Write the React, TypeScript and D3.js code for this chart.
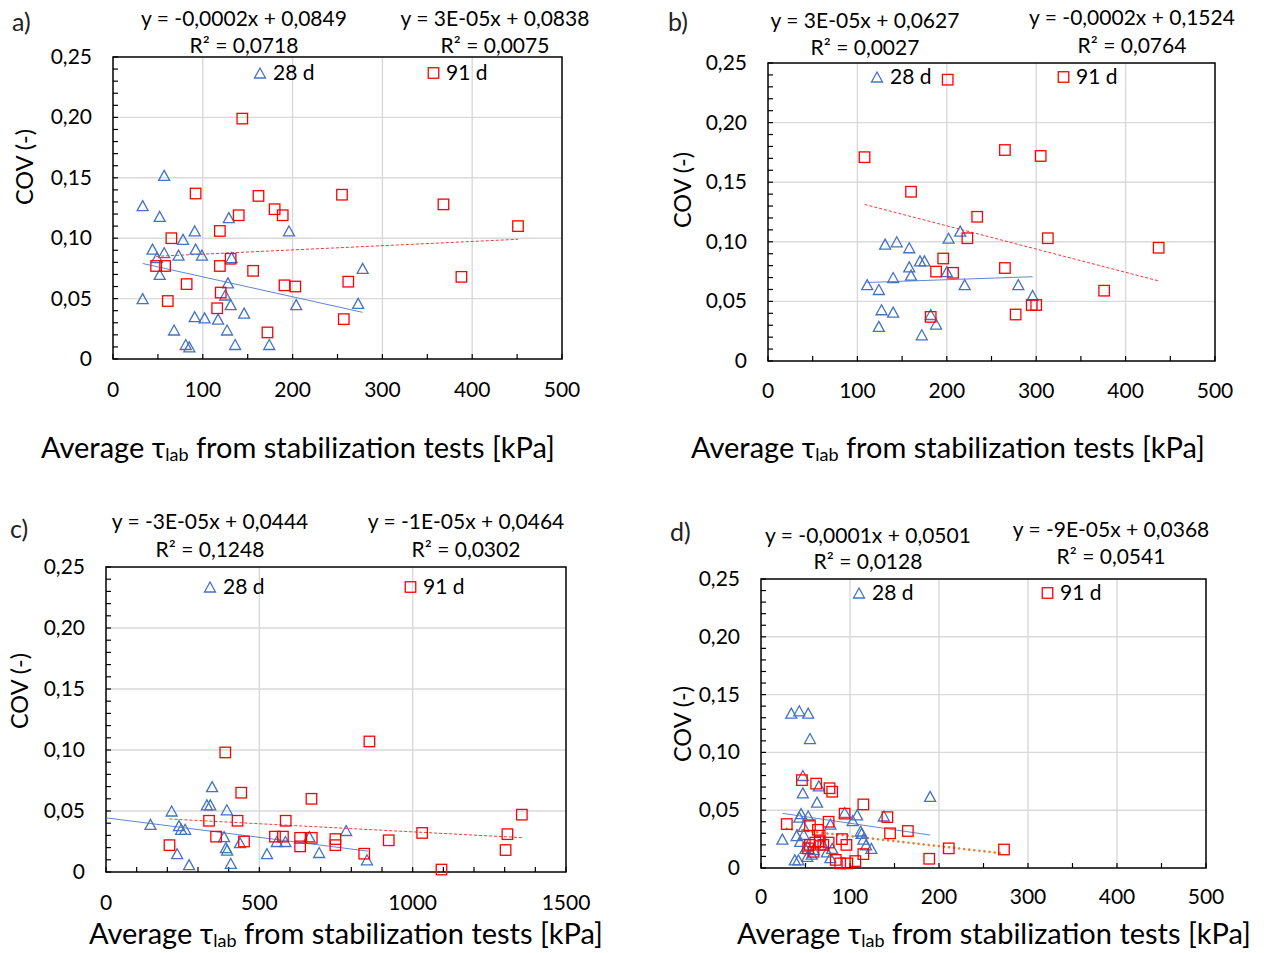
import React from 'react';
import * as d3 from 'd3';

const FONT = "Lato, 'Open Sans', sans-serif";
const BLUE = '#4472C4';
const RED = '#FF0000';
const ORANGE = '#ED7D31';

// ---------- Panel a ----------
const aX28 = [33, 57, 52, 44, 49, 57, 52, 33, 78, 73, 91, 92, 99, 68, 81, 85, 91, 102, 117, 129, 132, 128, 125, 131, 127, 136, 146, 174, 196, 204, 278, 273];
const aY28 = [0.127, 0.152, 0.118, 0.091, 0.084, 0.088, 0.070, 0.050, 0.099, 0.086, 0.106, 0.091, 0.086, 0.024, 0.012, 0.010, 0.035, 0.034, 0.033, 0.117, 0.084, 0.063, 0.053, 0.045, 0.024, 0.012, 0.038, 0.012, 0.106, 0.045, 0.075, 0.046];
const aX91 = [144, 92, 162, 180, 189, 140, 119, 65, 48, 58, 119, 131, 156, 82, 191, 203, 120, 61, 116, 172, 255, 368, 451, 388, 262, 257];
const aY91 = [0.199, 0.137, 0.135, 0.124, 0.119, 0.119, 0.106, 0.100, 0.077, 0.077, 0.077, 0.083, 0.073, 0.062, 0.061, 0.060, 0.055, 0.048, 0.042, 0.022, 0.136, 0.128, 0.110, 0.068, 0.064, 0.033];

// ---------- Panel b ----------
const bX28 = [111, 124, 127, 140, 124, 131, 144, 158, 140, 158, 160, 170, 175, 172, 182, 188, 200, 202, 215, 220, 280, 296];
const bY28 = [0.064, 0.060, 0.043, 0.041, 0.029, 0.098, 0.100, 0.095, 0.070, 0.079, 0.072, 0.084, 0.084, 0.022, 0.039, 0.031, 0.075, 0.103, 0.109, 0.064, 0.064, 0.055];
const bX91 = [201, 108, 265, 305, 160, 234, 223, 313, 437, 196, 188, 207, 265, 376, 182, 277, 295, 300];
const bY91 = [0.236, 0.171, 0.177, 0.172, 0.142, 0.121, 0.103, 0.103, 0.095, 0.086, 0.075, 0.074, 0.078, 0.059, 0.037, 0.039, 0.047, 0.047];

// ---------- Panel c ----------
const cX28 = [145, 214, 238, 245, 258, 232, 271, 346, 329, 340, 394, 385, 391, 395, 407, 437, 525, 557, 585, 663, 695, 783, 851];
const cY28 = [0.039, 0.050, 0.038, 0.035, 0.035, 0.015, 0.006, 0.070, 0.055, 0.055, 0.051, 0.029, 0.020, 0.018, 0.007, 0.024, 0.015, 0.025, 0.025, 0.029, 0.016, 0.034, 0.010];
const cX91 = [389, 859, 441, 670, 336, 429, 586, 207, 359, 450, 551, 577, 633, 633, 748, 748, 671, 842, 922, 1031, 1094, 1309, 1303, 1356];
const cY91 = [0.098, 0.107, 0.065, 0.060, 0.042, 0.042, 0.042, 0.022, 0.029, 0.025, 0.029, 0.029, 0.028, 0.021, 0.027, 0.022, 0.028, 0.015, 0.026, 0.032, 0.002, 0.031, 0.018, 0.047];

// ---------- Panel d ----------
const dX28 = [34, 43, 53, 55, 47, 47, 63, 65, 24, 45, 53, 43, 44, 38, 42, 52, 50, 78, 78, 94, 108, 103, 113, 115, 118, 124, 138, 190, 80, 74, 59, 40, 48, 52, 70, 112, 48, 57];
const dY28 = [0.134, 0.136, 0.134, 0.112, 0.080, 0.065, 0.057, 0.071, 0.025, 0.047, 0.045, 0.044, 0.023, 0.007, 0.007, 0.010, 0.017, 0.038, 0.009, 0.048, 0.046, 0.041, 0.030, 0.025, 0.020, 0.017, 0.045, 0.062, 0.017, 0.014, 0.016, 0.028, 0.036, 0.019, 0.020, 0.032, 0.029, 0.012];
const dX91 = [46, 62, 77, 80, 115, 94, 76, 142, 29, 55, 145, 165, 211, 273, 189, 66, 66, 61, 55, 53, 70, 59, 91, 96, 84, 89, 97, 106, 115, 64, 76];
const dY91 = [0.076, 0.073, 0.069, 0.066, 0.055, 0.047, 0.040, 0.044, 0.038, 0.037, 0.030, 0.032, 0.017, 0.016, 0.008, 0.028, 0.023, 0.022, 0.020, 0.017, 0.020, 0.014, 0.025, 0.020, 0.007, 0.004, 0.004, 0.006, 0.012, 0.033, 0.022];

// ---------- Trend lines (slope, intercept, x-range) per panel a,b,c,d ----------
const trend28Slope = [-0.000165, 0.000026, -0.000032, -0.000113];
const trend28Intercept = [0.0845, 0.0630, 0.0444, 0.0500];
const trend28From = [33, 111, 0, 24];
const trend28To = [278, 296, 855, 190];
const trend91Slope = [0.000035, -0.000195, -0.0000133, -0.0000876];
const trend91Intercept = [0.0833, 0.1524, 0.0462, 0.0364];
const trend91From = [48, 108, 207, 29];
const trend91To = [451, 437, 1356, 273];

// ---------- Labels ----------
const panelNames = ['a)', 'b)', 'c)', 'd)'];
const eq28Labels = ['y = -0,0002x + 0,0849', 'y = 3E-05x + 0,0627', 'y = -3E-05x + 0,0444', 'y = -0,0001x + 0,0501'];
const r228Labels = ['R² = 0,0718', 'R² = 0,0027', 'R² = 0,1248', 'R² = 0,0128'];
const eq91Labels = ['y = 3E-05x + 0,0838', 'y = -0,0002x + 0,1524', 'y = -1E-05x + 0,0464', 'y = -9E-05x + 0,0368'];
const r291Labels = ['R² = 0,0075', 'R² = 0,0764', 'R² = 0,0302', 'R² = 0,0541'];
const seriesNames = ['28 d', '91 d'];

const yTickValues = [0, 0.05, 0.1, 0.15, 0.2, 0.25];
const yTickLabels = ['0', '0,05', '0,10', '0,15', '0,20', '0,25'];
const xTicks500 = [0, 100, 200, 300, 400, 500];
const xTickLabels500 = ['0', '100', '200', '300', '400', '500'];
const xTicks1500 = [0, 500, 1000, 1500];
const xTickLabels1500 = ['0', '500', '1000', '1500'];

type Layout = {
  l: number; t: number; r: number; b: number;
  yLabRight: number; covX: number; covY: number; xLabY: number;
  titleX: number; titleY: number; nameX: number; nameY: number;
  eqX: [number, number]; eqY: [number, number]; r2Y: [number, number];
  leg28X: number; leg91X: number; legY: number;
  xMax: number; xMinor: number; xTicks: number[]; xTickLabels: string[];
  dottedOrange: boolean;
};

const layouts: Layout[] = [
  { l: 113, t: 57, r: 562, b: 359, yLabRight: 92, covX: 25, covY: 167, xLabY: 397, titleX: 298, titleY: 458, nameX: 12, nameY: 31,
    eqX: [244, 495], eqY: [26, 26], r2Y: [53, 53], leg28X: 253, leg91X: 427, legY: 73,
    xMax: 500, xMinor: 50, xTicks: xTicks500, xTickLabels: xTickLabels500, dottedOrange: false },
  { l: 768, t: 63, r: 1215, b: 361, yLabRight: 747, covX: 683, covY: 190, xLabY: 398, titleX: 948, titleY: 458, nameX: 668, nameY: 31,
    eqX: [865, 1132], eqY: [28, 25], r2Y: [55, 53], leg28X: 870, leg91X: 1057, legY: 77,
    xMax: 500, xMinor: 50, xTicks: xTicks500, xTickLabels: xTickLabels500, dottedOrange: false },
  { l: 106, t: 567, r: 566, b: 872, yLabRight: 85, covX: 20, covY: 691, xLabY: 910, titleX: 346, titleY: 944, nameX: 10, nameY: 538,
    eqX: [210, 466], eqY: [529, 529], r2Y: [557, 557], leg28X: 203, leg91X: 404, legY: 587,
    xMax: 1500, xMinor: 100, xTicks: xTicks1500, xTickLabels: xTickLabels1500, dottedOrange: false },
  { l: 761, t: 579, r: 1206, b: 868, yLabRight: 740, covX: 683, covY: 724, xLabY: 904, titleX: 994, titleY: 944, nameX: 670, nameY: 541,
    eqX: [868, 1111], eqY: [543, 537], r2Y: [569, 564], leg28X: 852, leg91X: 1041, legY: 593,
    xMax: 500, xMinor: 50, xTicks: xTicks500, xTickLabels: xTickLabels500, dottedOrange: true },
];

const xs28 = [aX28, bX28, cX28, dX28];
const ys28 = [aY28, bY28, cY28, dY28];
const xs91 = [aX91, bX91, cX91, dX91];
const ys91 = [aY91, bY91, cY91, dY91];

const TRI_W = 11;
const TRI_H = 10;
const SQ = 10.5;
const triPath = `M0,${-TRI_H / 2}L${TRI_W / 2},${TRI_H / 2}L${-TRI_W / 2},${TRI_H / 2}Z`;

function Tri({ cx, cy }: { cx: number; cy: number }) {
  return <path d={triPath} transform={`translate(${cx},${cy})`} fill="none" stroke={BLUE} strokeWidth={1.3} />;
}
function Sq({ cx, cy }: { cx: number; cy: number }) {
  return <rect x={cx - SQ / 2} y={cy - SQ / 2} width={SQ} height={SQ} fill="none" stroke={RED} strokeWidth={1.3} />;
}

function Panel({ i }: { i: number }) {
  const p = layouts[i];
  const x = d3.scaleLinear().domain([0, p.xMax]).range([p.l, p.r]);
  const y = d3.scaleLinear().domain([0, 0.25]).range([p.b, p.t]);
  const minorY = d3.range(0, 26).map((k) => k * 0.01);
  const minorX = d3.range(0, p.xMax / p.xMinor + 1).map((k) => k * p.xMinor);
  const line = d3.line<[number, number]>().x((d) => x(d[0])).y((d) => y(d[1]));
  const t28 = line([
    [trend28From[i], trend28Slope[i] * trend28From[i] + trend28Intercept[i]],
    [trend28To[i], trend28Slope[i] * trend28To[i] + trend28Intercept[i]],
  ]) as string;
  const t91 = line([
    [trend91From[i], trend91Slope[i] * trend91From[i] + trend91Intercept[i]],
    [trend91To[i], trend91Slope[i] * trend91To[i] + trend91Intercept[i]],
  ]) as string;
  return (
    <g fontFamily={FONT} fill="#000">
      {/* grid */}
      {yTickValues.slice(1, -1).map((v) => (
        <line key={'gy' + v} x1={p.l} x2={p.r} y1={y(v)} y2={y(v)} stroke="#D9D9D9" strokeWidth={1.4} />
      ))}
      {p.xTicks.slice(1, -1).map((v) => (
        <line key={'gx' + v} x1={x(v)} x2={x(v)} y1={p.t} y2={p.b} stroke="#D9D9D9" strokeWidth={1.4} />
      ))}
      {/* minor ticks */}
      {minorY.map((v) => (
        <line key={'my' + v} x1={p.l} x2={p.l + 5} y1={y(v)} y2={y(v)} stroke="#000" strokeWidth={1.2} />
      ))}
      {minorX.map((v) => (
        <line key={'mx' + v} x1={x(v)} x2={x(v)} y1={p.b} y2={p.b - 5} stroke="#000" strokeWidth={1.2} />
      ))}
      <rect x={p.l} y={p.t} width={p.r - p.l} height={p.b - p.t} fill="none" stroke="#000" strokeWidth={1.5} />
      {/* tick labels */}
      {yTickValues.map((v, k) => (
        <text key={'yl' + v} x={p.yLabRight} y={y(v) + 7} textAnchor="end" fontSize={21}>
          {yTickLabels[k]}
        </text>
      ))}
      {p.xTicks.map((v, k) => (
        <text key={'xl' + v} x={x(v)} y={p.xLabY} textAnchor="middle" fontSize={21}>
          {p.xTickLabels[k]}
        </text>
      ))}
      {/* axis titles */}
      <text transform={`translate(${p.covX + 8},${p.covY}) rotate(-90)`} textAnchor="middle" fontSize={23.5}>
        COV (-)
      </text>
      <text x={p.titleX} y={p.titleY} textAnchor="middle" fontSize={29}>
        Average τ<tspan fontSize={18} dy={3}>lab</tspan>
        <tspan dy={-3}> from stabilization tests [kPa]</tspan>
      </text>
      {/* panel name */}
      <text x={p.nameX} y={p.nameY} fontSize={25} fill="#222">
        {panelNames[i]}
      </text>
      {/* equations */}
      <text x={p.eqX[0]} y={p.eqY[0]} textAnchor="middle" fontSize={21}>{eq28Labels[i]}</text>
      <text x={p.eqX[0]} y={p.r2Y[0]} textAnchor="middle" fontSize={21}>{r228Labels[i]}</text>
      <text x={p.eqX[1]} y={p.eqY[1]} textAnchor="middle" fontSize={21}>{eq91Labels[i]}</text>
      <text x={p.eqX[1]} y={p.r2Y[1]} textAnchor="middle" fontSize={21}>{r291Labels[i]}</text>
      {/* trend lines */}
      <path d={t28} fill="none" stroke={BLUE} strokeWidth={1} opacity={0.85} />
      {p.dottedOrange ? (
        <path d={t91} fill="none" stroke={ORANGE} strokeWidth={2.6} strokeDasharray="0.1,5" strokeLinecap="round" />
      ) : (
        <path d={t91} fill="none" stroke={RED} strokeWidth={1} strokeDasharray="3,2" opacity={0.8} />
      )}
      {/* markers */}
      {xs28[i].map((v, k) => (
        <Tri key={'t' + k} cx={x(v)} cy={y(ys28[i][k])} />
      ))}
      {xs91[i].map((v, k) => (
        <Sq key={'s' + k} cx={x(v)} cy={y(ys91[i][k])} />
      ))}
      {/* legend */}
      <Tri cx={p.leg28X + 7} cy={p.legY} />
      <text x={p.leg28X + 20} y={p.legY + 7} fontSize={21}>{seriesNames[0]}</text>
      <Sq cx={p.leg91X + 6.5} cy={p.legY} />
      <text x={p.leg91X + 19} y={p.legY + 7} fontSize={21}>{seriesNames[1]}</text>
    </g>
  );
}

export default function App() {
  return (
    <svg width={1267} height={953} style={{ position: 'absolute', left: 0, top: 0, background: '#fff' }}>
      <rect width={1267} height={953} fill="#fff" />
      {layouts.map((_, i) => (
        <Panel key={i} i={i} />
      ))}
    </svg>
  );
}
